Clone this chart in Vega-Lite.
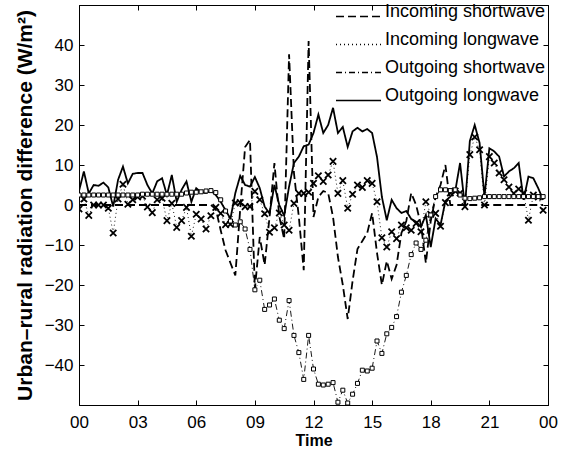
{
  "$schema": "https://vega.github.io/schema/vega-lite/v6.json",
  "width": 469,
  "height": 400,
  "autosize": {"type": "none"},
  "padding": {"left": 79, "top": 5, "right": 22, "bottom": 54},
  "background": "white",
  "config": {
    "font": "Liberation Sans",
    "view": {"stroke": "black", "strokeWidth": 1},
    "axis": {
      "domainColor": "black",
      "tickColor": "black",
      "labelColor": "black",
      "titleColor": "black",
      "labelFont": "Liberation Sans",
      "titleFont": "Liberation Sans",
      "labelFontSize": 17,
      "titleFontWeight": "bold",
      "grid": false,
      "tickSize": -5
    },
    "legend": {
      "labelFont": "Liberation Sans",
      "labelFontSize": 18,
      "labelColor": "black"
    }
  },
  "data": {
    "values": [
      {"t": 0, "IS": 0, "IL": -1.0, "OS": 2.5, "OL": 3.5},
      {"t": 0.25, "IS": 0, "IL": 1.5, "OS": 2.5, "OL": 8.4},
      {"t": 0.5, "IS": 0, "IL": -2.6, "OS": 2.5, "OL": 2.9},
      {"t": 0.75, "IS": 0, "IL": 0, "OS": 2.5, "OL": 5.0},
      {"t": 1, "IS": 0, "IL": 0, "OS": 2.5, "OL": 4.8},
      {"t": 1.25, "IS": 0, "IL": 0, "OS": 2.5, "OL": 5.6},
      {"t": 1.5, "IS": 0, "IL": -0.8, "OS": 2.5, "OL": 4.4},
      {"t": 1.75, "IS": 0, "IL": -7.0, "OS": 2.5, "OL": -0.4},
      {"t": 2, "IS": 0, "IL": 1.5, "OS": 2.5, "OL": 6.3},
      {"t": 2.25, "IS": 0, "IL": 5.2, "OS": 2.5, "OL": 9.6},
      {"t": 2.5, "IS": 0, "IL": 0.2, "OS": 2.5, "OL": 5.4},
      {"t": 2.75, "IS": 0, "IL": 1.3, "OS": 2.5, "OL": 7.8},
      {"t": 3, "IS": 0, "IL": 2.0, "OS": 2.5, "OL": 8.0},
      {"t": 3.25, "IS": 0, "IL": 2.2, "OS": 2.7, "OL": 8.0},
      {"t": 3.5, "IS": 0, "IL": -0.5, "OS": 2.7, "OL": 5.0},
      {"t": 3.75, "IS": 0, "IL": -1.9, "OS": 2.7, "OL": 2.9},
      {"t": 4, "IS": 0, "IL": 1.3, "OS": 2.7, "OL": 5.9},
      {"t": 4.25, "IS": 0, "IL": 1.7, "OS": 2.7, "OL": 6.7},
      {"t": 4.5, "IS": 0, "IL": -3.9, "OS": 2.7, "OL": 2.5},
      {"t": 4.75, "IS": 0, "IL": 0.4, "OS": 2.7, "OL": 7.5},
      {"t": 5, "IS": 0, "IL": -5.6, "OS": 2.7, "OL": 0.8},
      {"t": 5.25, "IS": 0, "IL": -3.9, "OS": 2.7, "OL": 3.8},
      {"t": 5.5, "IS": 0, "IL": -0.6, "OS": 3.0, "OL": 5.9},
      {"t": 5.75, "IS": 0, "IL": -7.8, "OS": 3.2, "OL": 0.8},
      {"t": 6, "IS": 0, "IL": -2.3, "OS": 3.2, "OL": 4.2},
      {"t": 6.25, "IS": 0, "IL": -3.5, "OS": 3.3, "OL": 3.2},
      {"t": 6.5, "IS": 0, "IL": -6.0, "OS": 3.5, "OL": 3.0},
      {"t": 6.75, "IS": 0, "IL": -2.7, "OS": 3.6, "OL": 3.6},
      {"t": 7, "IS": -1, "IL": -0.6, "OS": 3.1, "OL": 2.5},
      {"t": 7.25, "IS": -6.3, "IL": -2.1, "OS": 1.3, "OL": 0.8},
      {"t": 7.5, "IS": -11.3, "IL": -4.9, "OS": -1.5, "OL": -1.3},
      {"t": 7.75, "IS": -14.5, "IL": -4.8, "OS": -4.0, "OL": -3.4},
      {"t": 8, "IS": -17.6, "IL": 0.5, "OS": -5.0, "OL": 3.0},
      {"t": 8.25, "IS": -1, "IL": 0.6, "OS": -4.2, "OL": 7.3},
      {"t": 8.5, "IS": 14.5, "IL": -0.4, "OS": -6.0, "OL": 5.0},
      {"t": 8.75, "IS": 16.3, "IL": -0.4, "OS": -11.1, "OL": 4.6},
      {"t": 9, "IS": -21, "IL": 3.4, "OS": -21.2, "OL": 7.0},
      {"t": 9.25, "IS": -8, "IL": 1.3, "OS": -18.8, "OL": 4.2},
      {"t": 9.5, "IS": -15, "IL": -2.2, "OS": -26.1, "OL": -0.4},
      {"t": 9.75, "IS": -3, "IL": -6.8, "OS": -25.0, "OL": -2.1},
      {"t": 10, "IS": 10.5, "IL": -5.7, "OS": -23.5, "OL": 5.0},
      {"t": 10.25, "IS": -2.9, "IL": -2.0, "OS": -28.8, "OL": 0.0},
      {"t": 10.5, "IS": -8.5, "IL": -5.0, "OS": -30.9, "OL": -2.7},
      {"t": 10.75, "IS": 37.7, "IL": -6.3, "OS": -23.9, "OL": 4.6},
      {"t": 11, "IS": 8, "IL": 0.4, "OS": -32.6, "OL": 10.5},
      {"t": 11.25, "IS": -3, "IL": 2.9, "OS": -36.9, "OL": 12.1},
      {"t": 11.5, "IS": -16.3, "IL": 2.9, "OS": -43.6, "OL": 14.7},
      {"t": 11.75, "IS": 41, "IL": 3.2, "OS": -32.6, "OL": 15.1},
      {"t": 12, "IS": -3, "IL": 5.4, "OS": -41.0, "OL": 18.0},
      {"t": 12.25, "IS": 2, "IL": 7.3, "OS": -44.8, "OL": 22.6},
      {"t": 12.5, "IS": 3.5, "IL": 5.9, "OS": -45.0, "OL": 18.0},
      {"t": 12.75, "IS": 3, "IL": 7.5, "OS": -44.8, "OL": 20.0},
      {"t": 13, "IS": -3, "IL": 10.9, "OS": -44.4, "OL": 24.3},
      {"t": 13.25, "IS": -13, "IL": 2.9, "OS": -49.3, "OL": 18.0},
      {"t": 13.5, "IS": -20, "IL": 6.1, "OS": -46.3, "OL": 19.5},
      {"t": 13.75, "IS": -28.5, "IL": -0.8, "OS": -49.5, "OL": 14.5},
      {"t": 14, "IS": -19, "IL": 2.7, "OS": -47.3, "OL": 18.4},
      {"t": 14.25, "IS": -11, "IL": 5.0, "OS": -44.6, "OL": 19.3},
      {"t": 14.5, "IS": -9, "IL": 4.4, "OS": -41.3, "OL": 18.4},
      {"t": 14.75, "IS": -7, "IL": 6.1, "OS": -41.5, "OL": 19.0},
      {"t": 15, "IS": -2, "IL": 5.4, "OS": -40.8, "OL": 18.0},
      {"t": 15.25, "IS": -12, "IL": 0.8, "OS": -34.0, "OL": 12.0},
      {"t": 15.5, "IS": -20, "IL": -8.2, "OS": -37.1, "OL": 2.0},
      {"t": 15.75, "IS": -14, "IL": -10.5, "OS": -32.2, "OL": -3.8},
      {"t": 16, "IS": -18.5, "IL": -6.7, "OS": -30.6, "OL": 1.3},
      {"t": 16.25, "IS": -15, "IL": -8.4, "OS": -27.9, "OL": -0.8},
      {"t": 16.5, "IS": -7, "IL": -5.0, "OS": -21.8, "OL": -2.0},
      {"t": 16.75, "IS": -4, "IL": -5.7, "OS": -17.6, "OL": -1.5},
      {"t": 17, "IS": 3, "IL": -6.3, "OS": -12.4, "OL": -3.5},
      {"t": 17.25, "IS": 0, "IL": -4.6, "OS": -9.5, "OL": -4.2},
      {"t": 17.5, "IS": -5, "IL": -6.7, "OS": -11.1, "OL": -5.5},
      {"t": 17.75, "IS": -14.5, "IL": 0.8, "OS": -8.8, "OL": -2.5},
      {"t": 18, "IS": -4, "IL": -2.3, "OS": -2.5, "OL": -10.5},
      {"t": 18.25, "IS": 2, "IL": -2.1, "OS": 2.1, "OL": -3.4},
      {"t": 18.5, "IS": 5, "IL": -5.3, "OS": 3.8, "OL": -5.0},
      {"t": 18.75, "IS": 10, "IL": 0.6, "OS": 3.8, "OL": 1.0},
      {"t": 19, "IS": 0, "IL": 3.0, "OS": 3.6, "OL": 2.1},
      {"t": 19.25, "IS": 0, "IL": 3.5, "OS": 3.8, "OL": 3.4},
      {"t": 19.5, "IS": 0, "IL": 3.0, "OS": 2.5, "OL": 10.5},
      {"t": 19.75, "IS": 0, "IL": -0.4, "OS": 1.7, "OL": -0.4},
      {"t": 20, "IS": 0, "IL": 12.6, "OS": 1.6, "OL": 16.0},
      {"t": 20.25, "IS": 0, "IL": 17.0, "OS": 1.7, "OL": 20.0},
      {"t": 20.5, "IS": 0, "IL": 13.8, "OS": 1.8, "OL": 15.5},
      {"t": 20.75, "IS": 0, "IL": 0.0, "OS": 2.1, "OL": 2.1},
      {"t": 21, "IS": 0, "IL": 12.1, "OS": 2.1, "OL": 14.2},
      {"t": 21.25, "IS": 0, "IL": 10.5, "OS": 2.1, "OL": 13.4},
      {"t": 21.5, "IS": 0, "IL": 8.0, "OS": 2.1, "OL": 12.1},
      {"t": 21.75, "IS": 0, "IL": 6.3, "OS": 2.1, "OL": 7.1},
      {"t": 22, "IS": 0, "IL": 4.5, "OS": 2.1, "OL": 8.4},
      {"t": 22.25, "IS": 0, "IL": 2.9, "OS": 2.1, "OL": 9.2},
      {"t": 22.5, "IS": 0, "IL": 4.0, "OS": 2.1, "OL": 10.5},
      {"t": 22.75, "IS": 0, "IL": 3.0, "OS": 2.1, "OL": 1.3},
      {"t": 23, "IS": 0, "IL": -3.8, "OS": 2.1, "OL": 7.1},
      {"t": 23.25, "IS": 0, "IL": 2.5, "OS": 2.1, "OL": 6.7},
      {"t": 23.5, "IS": 0, "IL": 2.0, "OS": 2.1, "OL": 4.2},
      {"t": 23.75, "IS": 0, "IL": -1.3, "OS": 2.1, "OL": 1.3}
    ]
  },
  "layer": [
    {
      "transform": [{"fold": ["IS", "IL", "OS", "OL"], "as": ["series", "value"]}],
      "mark": {"type": "line", "color": "black", "clip": true},
      "encoding": {
        "x": {
          "field": "t", "type": "quantitative",
          "scale": {"domain": [0, 24], "nice": false, "zero": false},
          "axis": {
            "values": [0, 3, 6, 9, 12, 15, 18, 21, 24],
            "labelExpr": "datum.value == 24 ? '00' : (datum.value < 10 ? '0' + datum.value : '' + datum.value)",
            "title": "Time", "titleFontSize": 16, "titlePadding": 2, "labelPadding": 14,
            "labelFlush": false
          }
        },
        "y": {
          "field": "value", "type": "quantitative",
          "scale": {"domain": [-50, 50], "nice": false},
          "axis": {
            "values": [-40, -30, -20, -10, 0, 10, 20, 30, 40],
            "title": "Urban–rural radiation difference (W/m²)",
            "titleFontSize": 21, "titlePadding": 9, "labelPadding": 11,
            "labelFlush": false
          }
        },
        "strokeDash": {
          "field": "series", "type": "nominal",
          "sort": ["IS", "IL", "OS", "OL"],
          "scale": {"range": [[8, 4], [1, 3], [6, 3, 1, 3], [1, 0]]},
          "legend": {
            "title": null, "orient": "none", "legendX": 254, "legendY": -14, "padding": 2,
            "symbolType": "stroke", "symbolSize": 2025, "symbolStrokeColor": "black", "symbolStrokeWidth": 1.5,
            "rowPadding": -20.5, "labelOffset": 3, "labelLimit": 400, "labelBaseline": "alphabetic",
            "labelExpr": "datum.value == 'IS' ? 'Incoming shortwave' : datum.value == 'IL' ? 'Incoming longwave' : datum.value == 'OS' ? 'Outgoing shortwave' : 'Outgoing longwave'"
          }
        },
        "strokeWidth": {
          "field": "series", "type": "nominal",
          "scale": {"type": "ordinal", "domain": ["IS", "IL", "OS", "OL"], "range": [1.8, 0.9, 0.9, 1.8]},
          "legend": null
        }
      }
    },
    {
      "transform": [{"fold": ["IL"], "as": ["kind", "value"]}],
      "mark": {"type": "point", "shape": "M-1,-1L1,1M-1,1L1,-1", "size": 40, "filled": false, "stroke": "black", "strokeWidth": 1.8, "opacity": 1, "clip": true},
      "encoding": {
        "x": {"field": "t", "type": "quantitative", "axis": {"orient": "top", "labels": false, "title": null, "values": [0, 3, 6, 9, 12, 15, 18, 21, 24]}},
        "y": {"field": "value", "type": "quantitative", "axis": {"orient": "right", "labels": false, "title": null, "values": [-40, -30, -20, -10, 0, 10, 20, 30, 40]}}
      }
    },
    {
      "transform": [{"fold": ["OS"], "as": ["kind", "value"]}],
      "mark": {"type": "point", "shape": "square", "size": 16, "filled": true, "fill": "white", "stroke": "black", "strokeWidth": 1, "opacity": 1, "clip": true},
      "encoding": {
        "x": {"field": "t", "type": "quantitative", "axis": null},
        "y": {"field": "value", "type": "quantitative", "axis": null}
      }
    }
  ],
  "resolve": {"axis": {"x": "independent", "y": "independent"}}
}
